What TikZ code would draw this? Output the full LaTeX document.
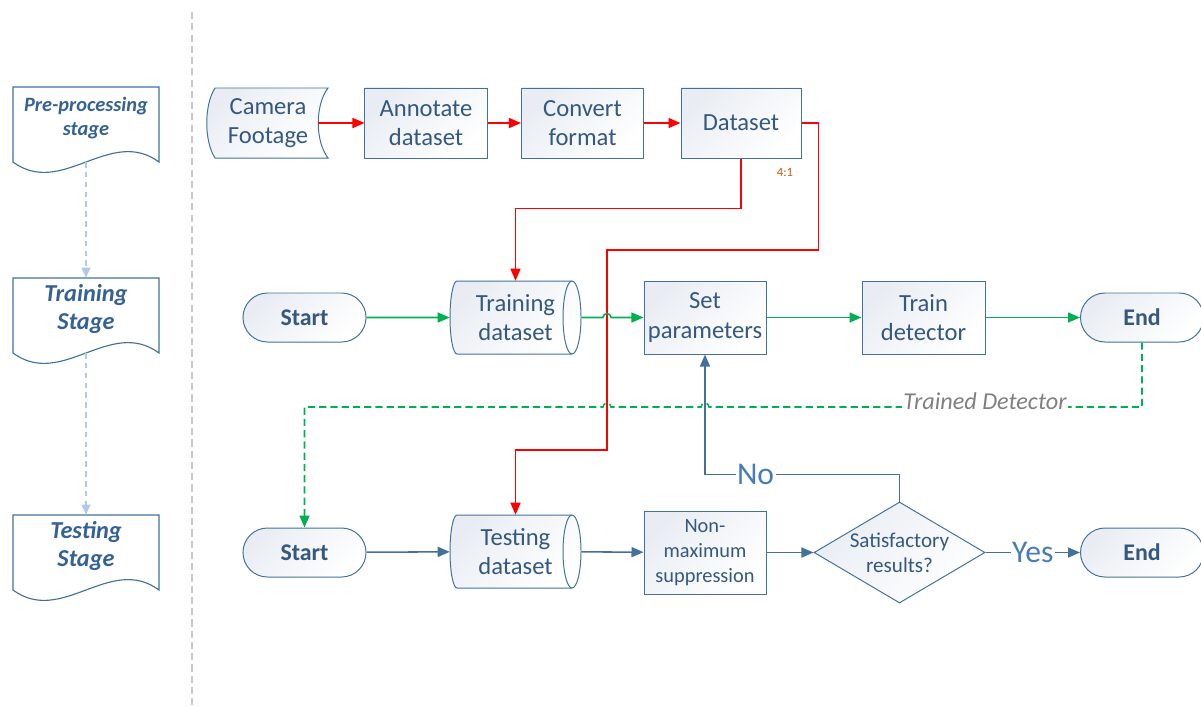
\documentclass[tikz,border=0pt]{standalone}
\usepackage{fontspec}
\setmainfont{Carlito}
\usepackage{tikz}
\usetikzlibrary{arrows.meta,shapes,positioning}
\definecolor{boxline}{RGB}{65,113,156}
\definecolor{boxfill}{RGB}{233,237,243}
\definecolor{boxtext}{RGB}{52,88,128}
\definecolor{stagetext}{RGB}{52,98,148}
\definecolor{grn}{RGB}{0,176,80}
\definecolor{ltblue}{RGB}{180,199,231}
\definecolor{divgray}{RGB}{200,200,200}
\definecolor{ratio}{RGB}{197,90,17}
\definecolor{lblgray}{RGB}{128,128,128}
\definecolor{yesno}{RGB}{70,125,185}
\tikzset{
  shade box/.style={draw=boxline,line width=0.7pt,top color=boxfill,bottom color=white,shading angle=45},
  boxlabel/.style={text=boxtext,align=center,inner sep=0pt,font=\fontsize{17.5}{20.8}\selectfont},
  box/.style={shade box,boxlabel},
  term/.style={box,rounded rectangle,minimum width=3.075cm,minimum height=1.225cm,font=\bfseries\fontsize{17}{20}\selectfont},
  stagebox/.style={text=stagetext,align=center,inner sep=0pt,minimum width=3.65cm,minimum height=1.55cm},
  redline/.style={red,line width=1.1pt,->},
  grnline/.style={grn,line width=1.1pt,->},
  bluline/.style={boxline,line width=1.1pt,->},
  yn/.style={fill=white,text=yesno,inner sep=1pt,font=\fontsize{22.5}{25}\selectfont}
}
\begin{document}
\begin{tikzpicture}[x=0.025cm,y=-0.025cm,>={Triangle[length=0.3cm,width=0.25cm]}]
\useasboundingbox (0,0) rectangle (1201,706);
\draw[divgray,line width=0.8pt,dash pattern=on 5pt off 3pt](192,12)--(192,706);
\foreach \t in {87,278,515}
  \draw[boxline,line width=0.8pt,fill=white](13,\t)--(159,\t)--(159,\t+75) .. controls (110,\t+39) and (62,\t+111) .. (13,\t+75)--cycle;
\node[stagebox,font=\bfseries\itshape\fontsize{14.5}{17}\selectfont](pre) at (86,118){Pre-processing\\stage};
\node[stagebox,font=\bfseries\itshape\fontsize{17.3}{20}\selectfont](trs) at (86,309){Training\\Stage};
\node[stagebox,font=\bfseries\itshape\fontsize{17.3}{20}\selectfont](tss) at (86,546){Testing\\Stage};
\coordinate (preb) at (86,162);
\coordinate (trsb) at (86,353);
\draw[ltblue,line width=0.8pt,dash pattern=on 4pt off 3pt,-{Triangle[length=0.25cm,width=0.22cm]}](preb)--(trs.north);
\draw[ltblue,line width=0.8pt,dash pattern=on 4pt off 3pt,-{Triangle[length=0.25cm,width=0.22cm]}](trsb)--(tss.north);

\path[shade box](215,88)--(328,88) .. controls (315,105) and (315,141) .. (328,158)--(215,158) .. controls (204,141) and (204,105) .. (215,88)--cycle;
\node[boxlabel](cam) at (268,123){Camera\\Footage};
\coordinate (camr) at (318,123);
\node[box,minimum width=3.05cm,minimum height=1.75cm](ann) at (426,123){Annotate\\dataset};
\node[box,minimum width=3.05cm,minimum height=1.75cm](cnv) at (582.5,123){Convert\\format};
\node[box,minimum width=3cm,minimum height=1.75cm](dat) at (741,123){Dataset};
\node[text=ratio,font=\fontsize{9}{10}\selectfont](rat) at (785,172){4:1};

\foreach \y in {317.5,551.5}{
  \path[shade box](457,\y-36.5)--(572,\y-36.5) arc[start angle=-90,end angle=90,x radius=9,y radius=36.5]--(457,\y+36.5) arc[start angle=90,end angle=270,x radius=7,y radius=36.5]--cycle;
  \draw[boxline,line width=0.7pt](572,\y-36.5) arc[start angle=-90,end angle=-270,x radius=9,y radius=36.5];
}
\node[term](st1) at (304.5,317.5){Start};
\node[boxlabel,minimum width=3.275cm,minimum height=1.825cm](trd) at (515.5,317.5){Training\\dataset};
\node[box,minimum width=3.05cm,minimum height=1.825cm](set) at (705,317.5){Set\\parameters};
\node[box,minimum width=3.075cm,minimum height=1.825cm](tdt) at (923.5,317.5){Train\\detector};
\node[term](en1) at (1142,317.5){End};

\node[term](st2) at (304.5,552.5){Start};
\node[boxlabel,minimum width=3.275cm,minimum height=1.825cm](ted) at (515.5,551.5){Testing\\dataset};
\node[box,minimum width=3.05cm,minimum height=2.075cm,font=\fontsize{14.5}{17.8}\selectfont](nms) at (705,552.5){Non-\\maximum\\suppression};
\node[box,diamond,shape aspect=1.8,minimum width=4.275cm,minimum height=2.525cm,font=\fontsize{15}{17.5}\selectfont](dec) at (899.5,552.5){Satisfactory\\results?};
\node[term](en2) at (1142,552.5){End};

\draw[redline](camr)--(ann);
\draw[redline](ann)--(cnv);
\draw[redline](cnv)--(dat);
\draw[redline](dat.south)--++(0,50)-|(trd.north);
\draw[redline](dat.east)--++(17,0)|-(607,250)--(607,450)-|(ted.north);

\draw[grnline](st1)--(trd);
\draw[grnline](trd.east)--(603,317.5) arc[start angle=180,end angle=360,radius=4]--(set);
\draw[grnline](set)--(tdt);
\draw[grnline](tdt)--(en1);
\draw[grnline,dash pattern=on 5pt off 3pt](en1.south)|-(709,407) arc[start angle=0,end angle=-180,radius=4]--(611,407) arc[start angle=0,end angle=-180,radius=4]--(304.5,407)--(st2.north);
\node[fill=white,text=lblgray,inner sep=1pt,font=\itshape\fontsize{17.2}{20}\selectfont](tdl) at (985,401){Trained Detector};

\draw[bluline](st2)--(ted);
\draw[bluline](ted)--(nms);
\draw[bluline](nms)--(dec);
\draw[bluline](dec)--node[yn]{Yes}(en2);
\draw[bluline](dec.north)--++(0,-27)-|node[yn,pos=0.37]{No}(set.south);
\end{tikzpicture}
\end{document}
